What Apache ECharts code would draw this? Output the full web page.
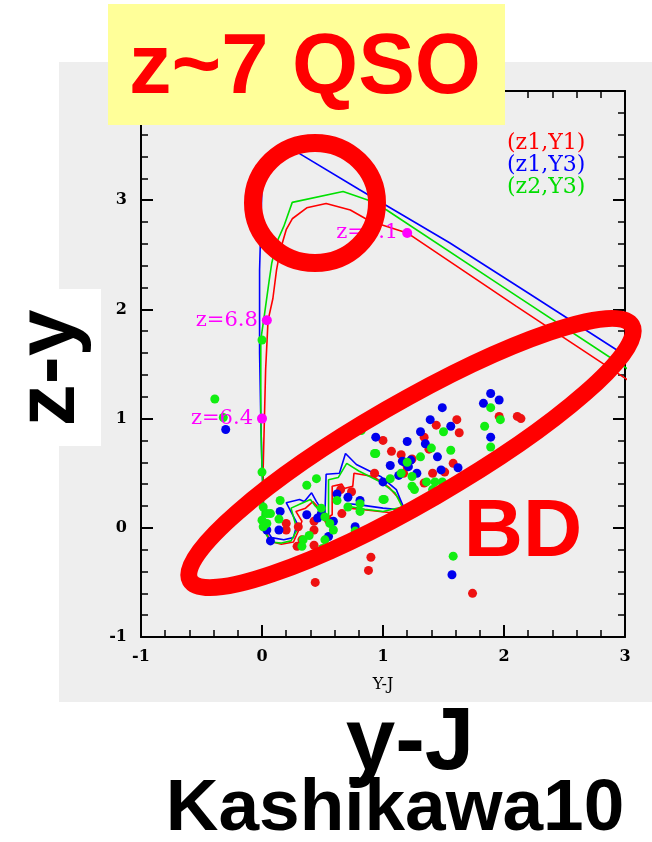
<!DOCTYPE html>
<html>
<head>
<meta charset="utf-8">
<script src="https://cdn.jsdelivr.net/npm/echarts@6/dist/echarts.min.js"></script>
<style>
html,body{margin:0;padding:0;background:#fff;}
#chart{width:652px;height:842px;}
</style>
</head>
<body>
<div id="chart"></div>
<script>
// ---- data ----
const trackNames = ['(z1,Y1)', '(z1,Y3)', '(z2,Y3)'];

// QSO colour tracks [Y-J, z-y]
const redTrack = [
  [3.10,1.30],[3.00,1.37],[2.10,2.03],[1.20,2.70],[0.89,2.81],[0.73,2.91],[0.53,2.97],[0.37,2.93],
  [0.25,2.83],[0.20,2.73],[0.15,2.54],[0.12,2.36],[0.09,2.10],[0.05,1.90],[0.03,1.45],[0.02,1.00],
  [0.01,0.56],[0.01,0.30],[0.02,0.05],[0.06,-0.12],[0.16,-0.15],[0.26,-0.13],[0.30,-0.03],[0.33,0.06],
  [0.28,0.15],[0.36,0.18],[0.42,0.24],[0.47,0.18],[0.55,0.10],[0.58,0.12],[0.58,0.38],[0.66,0.40],
  [0.68,0.36],[0.75,0.38],[0.76,0.50],[0.92,0.47],[1.05,0.37],[1.13,0.27],[1.18,0.17],[1.05,0.14],
  [0.88,0.16],[0.72,0.18]
];
const blueTrack = [
  [3.10,1.51],[3.00,1.58],[2.20,2.15],[1.55,2.61],[0.80,3.10],[0.29,3.44],[0.11,3.39],[0.02,3.29],
  [0.00,3.15],[-0.02,2.36],[-0.02,1.60],[-0.01,1.00],[0.00,0.55],[0.01,0.30],[0.01,0.13],[0.02,0.01],
  [0.08,-0.09],[0.18,-0.11],[0.26,-0.09],[0.29,0.04],[0.20,0.23],[0.31,0.26],[0.35,0.24],[0.41,0.32],
  [0.45,0.24],[0.52,0.12],[0.53,0.49],[0.64,0.50],[0.69,0.68],[0.78,0.58],[0.98,0.47],[1.11,0.35],
  [1.18,0.16],[1.00,0.18],[0.81,0.21],[0.72,0.22]
];
const greenTrack = [
  [3.10,1.40],[3.00,1.47],[2.00,2.20],[1.03,2.91],[0.88,3.00],[0.67,3.08],[0.25,2.98],[0.18,2.76],
  [0.12,2.61],[0.08,2.42],[0.06,2.27],[0.02,1.95],[-0.01,1.72],[-0.01,1.00],[0.00,0.55],[0.01,0.30],
  [0.00,0.10],[0.03,-0.05],[0.07,-0.13],[0.16,-0.14],[0.24,-0.12],[0.29,-0.02],[0.24,0.18],[0.32,0.22],
  [0.40,0.26],[0.44,0.20],[0.51,0.12],[0.55,0.10],[0.55,0.44],[0.63,0.46],[0.70,0.59],[0.80,0.52],
  [0.98,0.42],[1.10,0.32],[1.16,0.19],[1.00,0.15],[0.85,0.17],[0.70,0.20]
];

// brown dwarf colours
const redPts = [
  [1.00,0.80],[1.07,0.70],[0.93,0.50],[1.15,0.67],[1.20,0.56],[1.17,0.50],[1.34,0.83],[1.44,0.94],
  [1.61,0.99],[1.63,0.87],[1.58,0.59],[1.41,0.50],[1.34,0.41],[1.51,0.51],[1.96,1.02],[2.11,1.02],
  [2.14,1.00],[2.03,0.70],[0.90,-0.27],[0.88,-0.39],[0.44,-0.50],[1.74,-0.60],[0.65,0.35],[0.74,0.33],
  [0.66,0.13],[0.43,0.06],[0.43,-0.02],[0.43,-0.16],[0.29,-0.17],[0.33,-0.11],[0.20,0.04],[0.20,-0.02],
  [0.30,0.01],[0.55,0.07],[1.24,0.63],[1.38,0.72]
];
const bluePts = [
  [-0.30,0.90],[0.94,0.83],[1.06,0.57],[1.00,0.42],[1.16,0.61],[1.20,0.79],[1.23,0.62],[1.28,0.50],
  [1.31,0.88],[1.35,0.77],[1.39,0.99],[1.45,0.65],[1.48,0.53],[1.49,1.10],[1.56,0.93],[1.62,0.55],
  [1.83,1.14],[1.89,1.23],[1.96,1.17],[1.89,0.83],[1.57,-0.43],[0.77,0.01],[0.71,0.28],[0.62,0.31],
  [0.59,0.06],[0.55,-0.08],[0.49,0.13],[0.46,0.09],[0.37,0.12],[0.15,0.15],[0.14,-0.02],[0.07,-0.12],
  [0.04,-0.02],[0.81,0.25],[1.18,0.60],[1.21,0.56],[1.13,0.48]
];
const greenPts = [
  [-0.39,1.18],[-0.32,1.01],[0.00,1.72],[0.00,0.51],[0.82,0.89],[0.94,0.68],[0.45,0.45],[0.37,0.39],
  [0.15,0.25],[0.14,0.08],[1.01,0.26],[0.62,0.25],[0.71,0.19],[0.81,0.22],[0.81,0.15],[0.77,-0.03],
  [0.49,0.18],[0.52,0.10],[0.56,0.04],[0.59,-0.02],[0.52,-0.11],[0.50,-0.19],[0.34,-0.11],[0.33,-0.17],
  [0.39,-0.07],[0.01,0.19],[0.04,0.13],[0.07,0.13],[0.00,0.07],[0.01,0.01],[0.04,0.04],[1.06,0.45],
  [1.15,0.50],[1.24,0.47],[1.24,0.38],[1.26,0.35],[1.31,0.65],[1.40,0.73],[1.43,0.42],[1.36,0.42],
  [1.41,0.35],[1.49,0.42],[1.50,0.88],[1.56,0.71],[1.58,-0.26],[1.84,0.93],[1.89,1.10],[1.89,0.74],
  [1.97,0.99],[1.61,0.39],[0.93,0.68],[1.00,0.26],[1.20,0.60]
];

// redshift markers on the (z1,Y1) track
const zMarks = [[1.20,2.70],[0.04,1.90],[0.00,1.00]];
const zLabels = ['z=7.1','z=6.8','z=6.4'];

const xTickRange = [-1, 3];
const yTickRange = [-1, 4];

// ---- chart ----
const chart = echarts.init(document.getElementById('chart'), null, {renderer:'canvas'});
const serif = '"DejaVu Serif", "Liberation Serif", serif';
const sans = '"Liberation Sans", Arial, sans-serif';

function axisCommon(extra) {
  return Object.assign({
    type:'value',
    splitLine:{show:false},
    axisLine:{show:true, onZero:false, lineStyle:{color:'#000', width:2}},
    axisTick:{show:true, inside:true, length:12, lineStyle:{color:'#000', width:2}},
    minorTick:{show:true, splitNumber:5, length:7, lineStyle:{color:'#000', width:1.5}},
  }, extra);
}

const tickLabel = {fontFamily:serif, fontSize:16, fontWeight:'bold', color:'#000'};

const option = {
  backgroundColor:'transparent',
  animation:false,
  grid:{left:141, right:27, top:91, bottom:205, containLabel:false},
  legend:{
    orient:'vertical', left:497, top:127, itemWidth:0, itemHeight:0, itemGap:0,
    icon:'rect', selectedMode:false,
    textStyle:{fontFamily:serif, fontSize:22, lineHeight:21},
    data:[
      {name:trackNames[0], textStyle:{color:'#ff0000'}},
      {name:trackNames[1], textStyle:{color:'#0000ff'}},
      {name:trackNames[2], textStyle:{color:'#00dd00'}}
    ]
  },
  xAxis:[
    axisCommon({min:xTickRange[0], max:xTickRange[1], interval:1, position:'bottom',
      axisLabel:Object.assign({margin:12}, tickLabel),
      name:'Y-J', nameLocation:'middle', nameGap:40,
      nameTextStyle:{fontFamily:serif, fontSize:16, color:'#000'}}),
    axisCommon({min:xTickRange[0], max:xTickRange[1], interval:1, position:'top',
      axisLabel:{show:false}})
  ],
  yAxis:[
    axisCommon({min:yTickRange[0], max:yTickRange[1], interval:1, position:'left',
      axisLabel:Object.assign({margin:14}, tickLabel)}),
    axisCommon({min:yTickRange[0], max:yTickRange[1], interval:1, position:'right',
      axisLabel:{show:false}})
  ],
  series:[
    {name:trackNames[0], type:'line', data:redTrack, symbol:'none', clip:true, z:2,
      lineStyle:{color:'#ff0000', width:1.6}, itemStyle:{color:'#ff0000'}},
    {name:trackNames[1], type:'line', data:blueTrack, symbol:'none', clip:true, z:2,
      lineStyle:{color:'#0000ff', width:1.6}, itemStyle:{color:'#0000ff'}},
    {name:trackNames[2], type:'line', data:greenTrack, symbol:'none', clip:true, z:2,
      lineStyle:{color:'#00e000', width:1.6}, itemStyle:{color:'#00e000'}},
    {name:'BD (z1,Y1)', type:'scatter', data:redPts, symbol:'circle', symbolSize:9, z:3,
      itemStyle:{color:'#ee1111', opacity:1}},
    {name:'BD (z1,Y3)', type:'scatter', data:bluePts, symbol:'circle', symbolSize:9, z:3,
      itemStyle:{color:'#0000ee', opacity:1}},
    {name:'BD (z2,Y3)', type:'scatter', data:greenPts, symbol:'circle', symbolSize:9, z:3,
      itemStyle:{color:'#11ee11', opacity:1}},
    {name:'redshift', type:'scatter', symbol:'circle', symbolSize:10, z:4,
      data:zMarks.map((p,i)=>({value:p, name:zLabels[i]})),
      itemStyle:{color:'#ff00ff', opacity:1},
      label:{show:true, position:'left', distance:4, formatter:(p)=>p.name,
        fontFamily:serif, fontSize:21, color:'#ff00ff'}}
  ],
  graphic:[
    {type:'rect', z:-10, silent:true, shape:{x:59, y:62, width:593, height:640}, style:{fill:'#eeeeee'}},
    {type:'rect', z:-9, silent:true, shape:{x:0, y:289, width:101, height:157}, style:{fill:'#ffffff'}},
    {type:'rect', z:100, silent:true, shape:{x:108, y:4, width:397, height:121}, style:{fill:'#ffff99'}},
    {type:'text', z:101, silent:true, x:305, y:70,
      style:{text:'z~7 QSO', fontFamily:sans, fontWeight:'bold', fontSize:85, fill:'#ff0000', align:'center', verticalAlign:'middle'}},
    {type:'ellipse', z:102, silent:true, shape:{cx:315, cy:203, rx:62, ry:60},
      style:{fill:'none', stroke:'#ff0000', lineWidth:18}},
    {type:'ellipse', z:102, silent:true, x:411, y:453, rotation:30*Math.PI/180,
      shape:{cx:0, cy:0, rx:255, ry:50}, style:{fill:'none', stroke:'#ff0000', lineWidth:17}},
    {type:'text', z:103, silent:true, x:523, y:533,
      style:{text:'BD', fontFamily:sans, fontWeight:'bold', fontSize:82, fill:'#ff0000', align:'center', verticalAlign:'middle'}},
    {type:'text', z:103, silent:true, x:51, y:368, rotation:Math.PI/2,
      style:{text:'z-y', fontFamily:sans, fontWeight:'bold', fontSize:84, fill:'#000000', align:'center', verticalAlign:'middle'}},
    {type:'text', z:103, silent:true, x:410, y:744,
      style:{text:'y-J', fontFamily:sans, fontWeight:'bold', fontSize:89, fill:'#000000', align:'center', verticalAlign:'middle'}},
    {type:'text', z:103, silent:true, x:395, y:810,
      style:{text:'Kashikawa10', fontFamily:sans, fontWeight:'bold', fontSize:73, fill:'#000000', align:'center', verticalAlign:'middle'}}
  ]
};
chart.setOption(option);
</script>
</body>
</html>
